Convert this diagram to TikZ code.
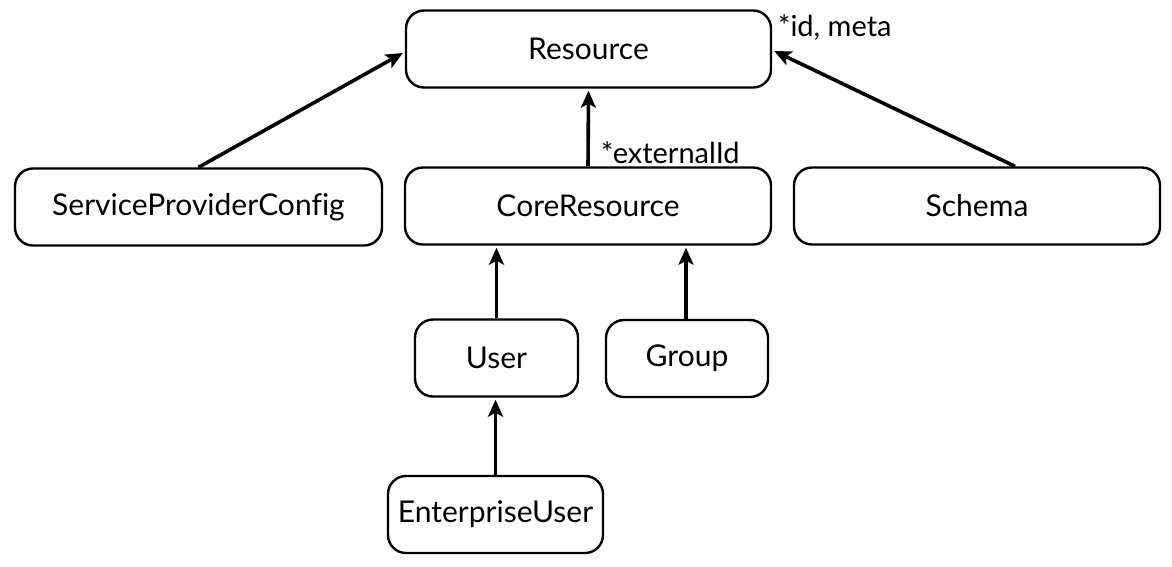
\documentclass[tikz,border=0pt]{standalone}
\usepackage{fontspec}
\setmainfont{Lato}[Ligatures=NoCommon]
\usetikzlibrary{arrows.meta}
\tikzset{
  box/.style={draw=black, line width=2.4pt, rounded corners=18pt, fill=white,
    minimum height=77pt, inner sep=0pt, font=\fontsize{30}{36}\selectfont},
  conn/.style={line width=3.6pt, -{Stealth[length=17pt,width=15pt,inset=4pt]}},
  lbl/.style={font=\fontsize{29}{34}\selectfont, inner sep=0pt, anchor=base west}
}
\begin{document}
\begin{tikzpicture}[x=1pt,y=-1pt]
\useasboundingbox (0,0) rectangle (1172,566);
\node[box, minimum width=365pt] (res) at (588.5,49) {Resource};
\node[box, minimum width=366pt] (core) at (588,206) {CoreResource};
\node[box, minimum width=367pt] (spc) at (198.5,207) {ServiceProviderConfig};
\node[box, minimum width=366pt] (schema) at (977,206) {Schema};
\node[box, minimum width=163pt] (user) at (496.5,358) {User};
\node[box, minimum width=162pt] (group) at (687,358.5) {Group};
\node[box, minimum width=215pt] (eu) at (495.5,514.5) {EnterpriseUser};
\draw[conn] (spc.north) -- ([xshift=-2pt,yshift=-4pt]res.west);
\draw[conn] (core.north) -- ([yshift=-2pt]res.south);
\draw[conn] ([xshift=38pt]schema.north) -- ([xshift=2pt,yshift=-2pt]res.east);
\draw[conn] (user.north) -- ([yshift=-2pt]user.north |- core.south);
\draw[conn] ([xshift=-1pt]group.north) -- ([xshift=-1pt,yshift=-2pt]group.north |- core.south);
\draw[conn] (eu.north) -- ([yshift=-2pt]eu.north |- user.south);
\node[lbl] (lext) at (601,163) {*externalId};
\node[lbl] (lid) at (778,36) {*id, meta};
\end{tikzpicture}
\end{document}
